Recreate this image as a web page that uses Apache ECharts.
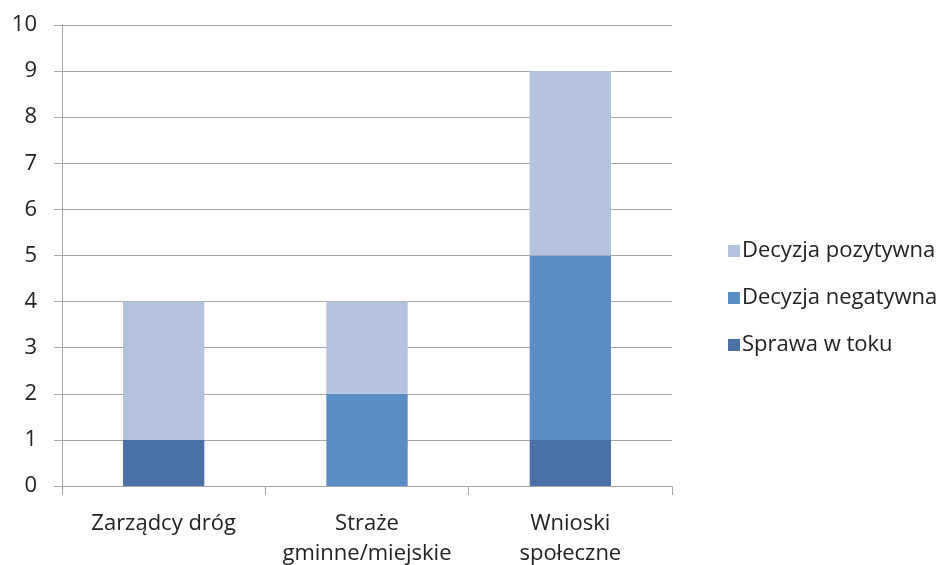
<!DOCTYPE html>
<html>
<head>
<meta charset="utf-8">
<script src="https://cdn.jsdelivr.net/npm/echarts@6/dist/echarts.min.js"></script>
<style>
  html, body { margin: 0; padding: 0; background: #fff; }
  #chart { width: 952px; height: 565px; }
</style>
</head>
<body>
<div id="chart"></div>
<script>
// Categories and stacked values per outcome
const categories = ['Zarządcy dróg', 'Straże\ngminne/miejskie', 'Wnioski\nspołeczne'];
const sprawaWToku = [1, 0, 1];
const decyzjaNegatywna = [0, 2, 4];
const decyzjaPozytywna = [3, 2, 4];
const yTicks = { min: 0, max: 10, interval: 1 };

const FONT = '"Open Sans", "Noto Sans", sans-serif';
const FS = 22;

const chart = echarts.init(document.getElementById('chart'), null, { renderer: 'canvas' });

function bar(name, data, color) {
  return {
    name: name,
    type: 'bar',
    stack: 'total',
    data: data,
    barWidth: '40%',
    itemStyle: { color: color },
    emphasis: { disabled: true }
  };
}

chart.setOption({
  animation: false,
  backgroundColor: '#ffffff',
  textStyle: { fontFamily: FONT },
  grid: {
    left: 62, right: 280, top: 25, bottom: 79,
    containLabel: false,
    outerBoundsMode: 'none'
  },
  xAxis: {
    type: 'category',
    data: categories,
    axisLine: { show: true, lineStyle: { color: '#a6a6a6', width: 1 } },
    axisTick: { show: true, length: 9, alignWithLabel: false, lineStyle: { color: '#a6a6a6' } },
    axisLabel: {
      color: '#222',
      fontSize: FS,
      fontFamily: FONT,
      margin: 23,
      lineHeight: 30,
      interval: 0
    }
  },
  yAxis: {
    type: 'value',
    min: yTicks.min,
    max: yTicks.max,
    interval: yTicks.interval,
    axisLine: { show: true, lineStyle: { color: '#a6a6a6', width: 1 } },
    axisTick: { show: true, length: 8, lineStyle: { color: '#a6a6a6' } },
    splitLine: { show: true, lineStyle: { color: '#a6a6a6', width: 1 } },
    axisLabel: { color: '#222', fontSize: FS, fontFamily: FONT, margin: 25 }
  },
  legend: {
    orient: 'vertical',
    left: 723,
    top: 235,
    itemWidth: 12,
    itemHeight: 12,
    itemGap: 25,
    icon: 'rect',
    data: ['Decyzja pozytywna', 'Decyzja negatywna', 'Sprawa w toku'],
    textStyle: { color: '#222', fontSize: FS, fontFamily: FONT, padding: [0, 0, 0, -3] }
  },
  series: [
    bar('Sprawa w toku', sprawaWToku, '#4a72a6'),
    bar('Decyzja negatywna', decyzjaNegatywna, '#5b8cc4'),
    bar('Decyzja pozytywna', decyzjaPozytywna, '#b3c3de')
  ]
});
</script>
</body>
</html>
